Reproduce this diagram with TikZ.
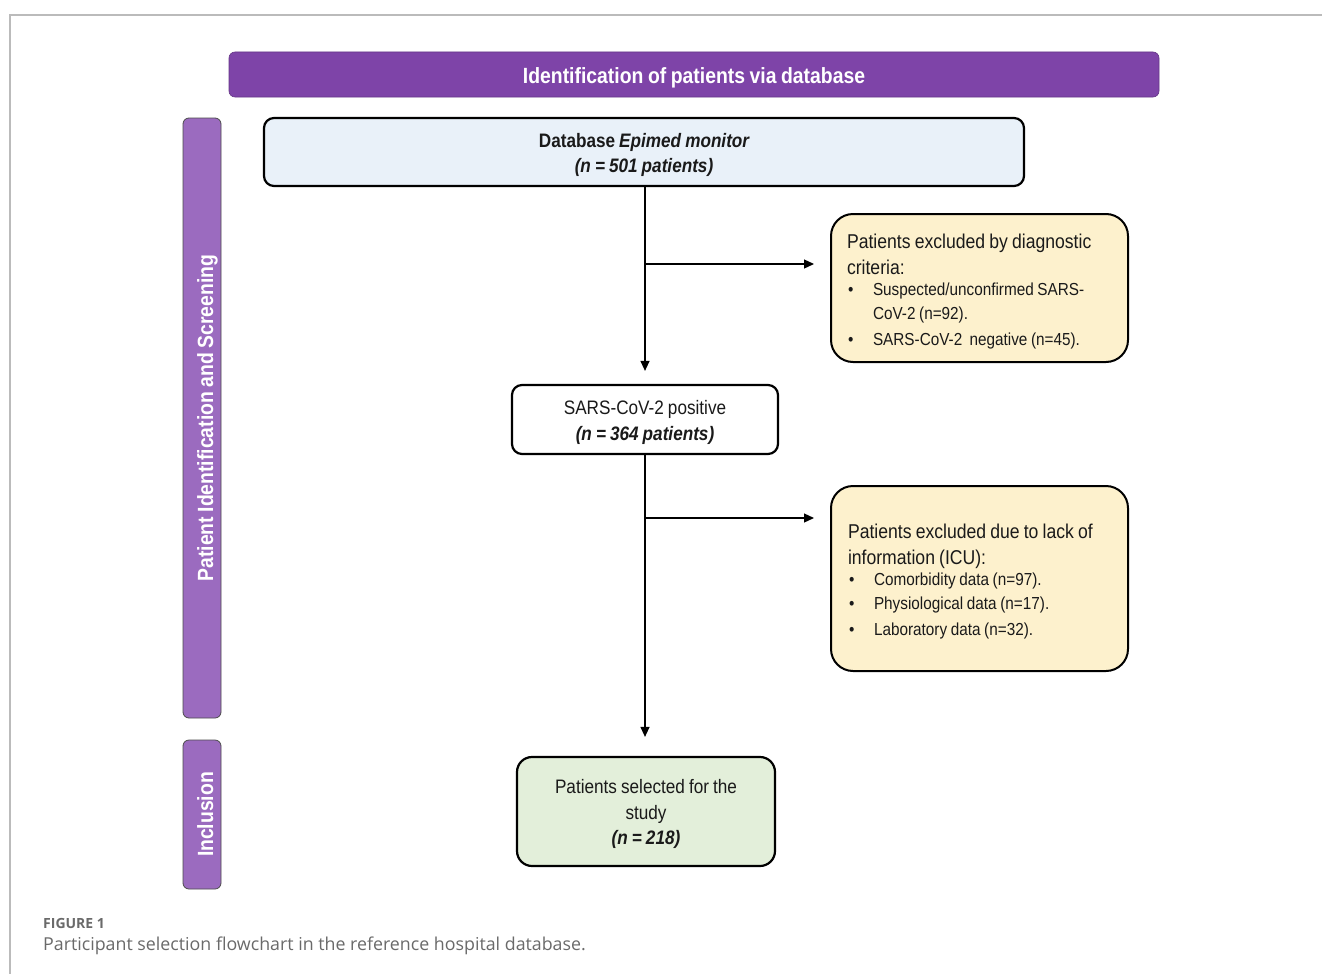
\documentclass[tikz,border=0pt]{standalone}
\usepackage{fontspec}
\setmainfont{Liberation Sans}
\newfontfamily\narrowfont[FakeStretch=0.88,WordSpace=0.85]{Liberation Sans}
\newfontfamily\capfont{Open Sans}
\usetikzlibrary{arrows.meta}
\definecolor{bannerpurple}{HTML}{7E44A8}
\definecolor{barpurple}{HTML}{9B6BBF}
\definecolor{bluefill}{HTML}{E9F1F9}
\definecolor{yellowfill}{HTML}{FDF1CD}
\definecolor{greenfill}{HTML}{E3EFDA}
\definecolor{framegray}{HTML}{BBBBBB}
\definecolor{capgray}{HTML}{6A6A6A}
\definecolor{textdark}{HTML}{1A1A1A}
\tikzset{
  x=1pt, y=-1pt,
  bannerbox/.style={draw=bannerpurple!80!black, line width=0.6pt, fill=bannerpurple, rounded corners=6pt, text=white,
     font=\narrowfont\fontsize{22}{26}\selectfont\bfseries, inner sep=0pt, text height=19pt, text depth=0pt},
  barbox/.style={draw=black!70, line width=0.8pt, fill=barpurple, rounded corners=6pt, text=white,
     font=\narrowfont\fontsize{22}{26}\selectfont\bfseries, inner sep=0pt, text height=22pt, text depth=0pt},
  flowbox/.style={draw=black, line width=2.2pt, rounded corners=10pt, text=textdark, align=center, inner sep=0pt,
     font=\narrowfont\fontsize{19.5}{25.5}\selectfont},
  exclbox/.style={draw=black, line width=2pt, fill=yellowfill, rounded corners=22pt, text=textdark, align=left,
     inner sep=0pt, font=\narrowfont\fontsize{20}{26}\selectfont},
  flowarrow/.style={draw=black, line width=1.2pt, -{Triangle[length=10pt,width=9pt]}},
}
\newcommand{\bul}{\makebox[26pt][l]{\hspace*{1pt}\textbullet}}
\newcommand{\smallsz}{\fontsize{17.4}{23.5}\selectfont}
\newcommand{\tup}{\rule{0pt}{20pt}}
\newcommand{\wsp}{\spaceskip=0pt\xspaceskip=0pt\relax}
\begin{document}
\begin{tikzpicture}
\useasboundingbox (0,0) rectangle (1322,974);
\fill[white] (0,0) rectangle (1322,974);
% frame
\draw[framegray, line width=1.5pt] (10,974) -- (10,15) -- (1322,15);

% banner
\node[bannerbox, minimum width=930pt, minimum height=45pt] (banner) at (694,74.5) {Identification of patients via database};
% side bars
\node[barbox, minimum width=600pt, minimum height=38pt, rotate=90] (screenbar) at (202,418) {Patient Identification and Screening};
\node[barbox, minimum width=149pt, minimum height=38pt, rotate=90] (inclbar) at (202,814.5) {Inclusion};

% boxes
\node[flowbox, fill=bluefill, minimum width=760pt, minimum height=68pt] (db) at (644,152)
  {\tup\bfseries Database \itshape Epimed monitor\\ \bfseries\itshape (n = 501 patients)};
\node[flowbox, fill=white, minimum width=266pt, minimum height=69pt] (pos) at (645,419.5)
  {\tup SARS-CoV-2 positive\\ \bfseries\itshape (n = 364 patients)};
\node[flowbox, fill=greenfill, rounded corners=15pt, minimum width=258pt, minimum height=109pt] (sel) at (646,811.5)
  {\tup Patients selected for the\\ study\\ \bfseries\itshape (n = 218)};

\node[exclbox, text width=265pt, minimum width=297pt, minimum height=148pt] (ex1) at (979.5,288)
  {\wsp\rule{0pt}{21pt}Patients excluded by diagnostic\\criteria:\\[-2pt]
   {\smallsz\wsp\bul Suspected/unconfirmed SARS-\\ \hspace*{26pt}CoV-2 (n=92).\\
   \bul SARS-CoV-2\ \ negative (n=45).}};
\node[exclbox, text width=263pt, minimum width=297pt, minimum height=185pt] (ex2) at (979.5,578.5)
  {\wsp\tup Patients excluded due to lack of\\ information (ICU):\\[-2pt]
   {\smallsz\wsp\bul Comorbidity data (n=97).\\
   \bul Physiological data (n=17).\\
   \bul Laboratory data (n=32).}};

% connectors
\coordinate (b1) at (645,264);
\coordinate (b2) at (645,518);
\draw[flowarrow, shorten >=13pt] (db.south -| pos.north) -- (pos.north);
\draw[flowarrow, shorten >=16pt] (b1) -- (b1 -| ex1.west);
\draw[flowarrow, shorten >=19pt] (pos.south) -- (pos.south |- sel.north);
\draw[flowarrow, shorten >=16pt] (b2) -- (b2 -| ex2.west);

% caption
\node[anchor=west, text=capgray, inner sep=0pt, font=\capfont\fontsize{14}{16}\selectfont\bfseries] (figlab) at (43,923) {FIGURE 1};
\node[anchor=west, text=capgray, inner sep=0pt, font=\capfont\fontsize{17.8}{20}\selectfont] (caption) at (43,946)
  {Participant selection flowchart in the reference hospital database.};
\end{tikzpicture}
\end{document}
